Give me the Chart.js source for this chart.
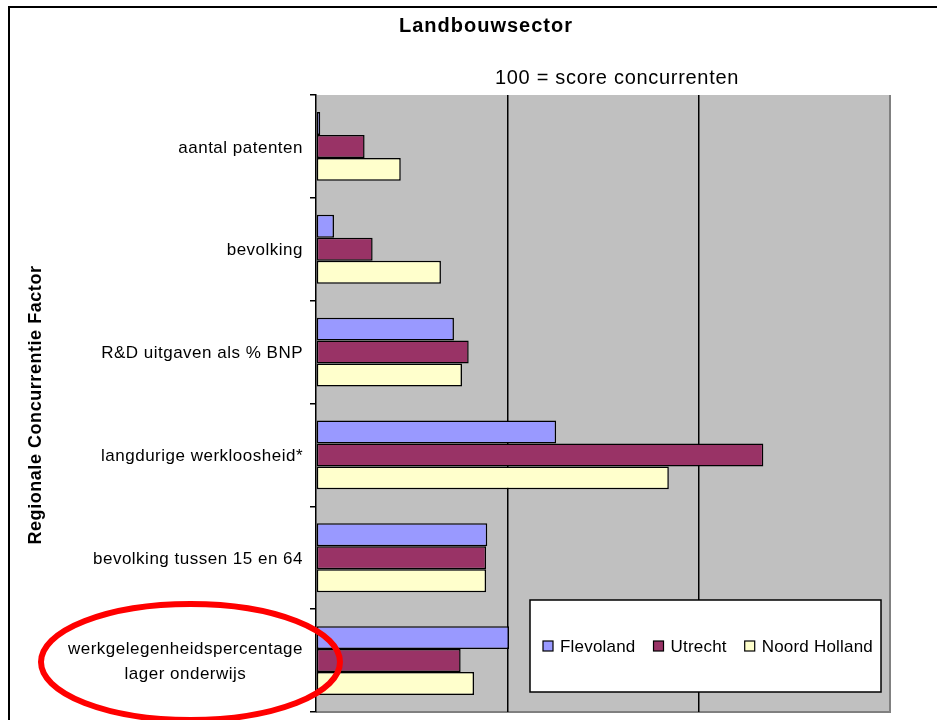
<!DOCTYPE html>
<html>
<head>
<meta charset="utf-8">
<script src="https://cdn.jsdelivr.net/npm/chart.js@4"></script>
<style>
  body { margin: 0; background: #fff; }
  canvas { display: block; }
</style>
</head>
<body>
<canvas id="chart" width="937" height="720"></canvas>
<script>
// data
var factoren = [
  'aantal patenten',
  'bevolking',
  'R&D uitgaven als % BNP',
  'langdurige werkloosheid*',
  'bevolking tussen 15 en 64',
  ['werkgelegenheidspercentage', 'lager onderwijs']
];
var flevoland = [2.2, 9.4, 72.1, 125.5, 89.5, 100.9];
var utrecht = [25.4, 29.6, 79.8, 233.8, 88.9, 75.6];
var noordHolland = [44.3, 65.3, 76.3, 184.4, 88.9, 82.6];
var xTicks = [0, 100, 200, 300];

var FONT = '"Liberation Sans", Arial, sans-serif';

// achtergrond plotgebied + kader
var achtergrond = {
  id: 'achtergrond',
  beforeDraw: function (chart) {
    var ctx = chart.ctx, a = chart.chartArea;
    ctx.save();
    ctx.fillStyle = '#fff';
    ctx.fillRect(0, 0, chart.width, chart.height);
    // buitenkader
    ctx.strokeStyle = '#000';
    ctx.lineWidth = 2;
    ctx.beginPath();
    ctx.moveTo(9, chart.height + 5);
    ctx.lineTo(9, 7);
    ctx.lineTo(chart.width + 5, 7);
    ctx.stroke();
    ctx.fillStyle = '#c0c0c0';
    ctx.fillRect(a.left, a.top, a.right - a.left, a.bottom - a.top);
    ctx.strokeStyle = '#808080';
    ctx.lineWidth = 2;
    ctx.beginPath();
    ctx.moveTo(a.right, a.top);
    ctx.lineTo(a.right, a.bottom);
    ctx.lineTo(a.left, a.bottom);
    ctx.stroke();
    ctx.restore();
  }
};

// titels, aslabels, legenda en ellips
var teksten = {
  id: 'teksten',
  afterDraw: function (chart) {
    var ctx = chart.ctx, y = chart.scales.y;
    ctx.save();
    ctx.fillStyle = '#000';
    ctx.textBaseline = 'middle';

    ctx.textAlign = 'center';
    ctx.letterSpacing = '1px';
    ctx.font = 'bold 20px ' + FONT;
    ctx.fillText('Landbouwsector', 486, 26);
    ctx.letterSpacing = '0.7px';
    ctx.font = '20px ' + FONT;
    ctx.fillText('100 = score concurrenten', 617, 78);

    // y-as titel
    ctx.save();
    ctx.translate(36, 405);
    ctx.rotate(-Math.PI / 2);
    ctx.letterSpacing = '0.55px';
    ctx.font = 'bold 18px ' + FONT;
    ctx.fillText('Regionale Concurrentie Factor', 0, 0);
    ctx.restore();

    // categorielabels
    ctx.letterSpacing = '0.5px';
    ctx.font = '17px ' + FONT;
    factoren.forEach(function (lab, i) {
      var lines = Array.isArray(lab) ? lab : [lab];
      var w = Math.max.apply(null, lines.map(function (l) { return ctx.measureText(l).width; }));
      var cx = 303 - w / 2;
      var yc = y.getPixelForValue(i) + 1.5;
      var lh = 25;
      lines.forEach(function (l, j) {
        ctx.fillText(l, cx, yc + (j - (lines.length - 1) / 2) * lh);
      });
    });

    // legenda
    var lx = 530, ly = 600, lw = 351, lhg = 92;
    ctx.fillStyle = '#fff';
    ctx.fillRect(lx, ly, lw, lhg);
    ctx.strokeStyle = '#000';
    ctx.lineWidth = 1.5;
    ctx.strokeRect(lx, ly, lw, lhg);
    ctx.letterSpacing = '0.2px';
    ctx.font = '17px ' + FONT;
    ctx.textAlign = 'left';
    var px = 543, py = ly + lhg / 2;
    chart.data.datasets.forEach(function (ds) {
      ctx.fillStyle = ds.backgroundColor;
      ctx.fillRect(px, py - 5, 10, 10);
      ctx.strokeStyle = '#000';
      ctx.lineWidth = 1.2;
      ctx.strokeRect(px, py - 5, 10, 10);
      ctx.fillStyle = '#000';
      ctx.fillText(ds.label, px + 17, py + 1);
      px += 17 + ctx.measureText(ds.label).width + 18;
    });

    // rode ellips
    ctx.strokeStyle = '#ff0000';
    ctx.lineWidth = 6;
    ctx.beginPath();
    ctx.ellipse(190.5, 662, 149.5, 58, 0, 0, Math.PI * 2);
    ctx.stroke();
    ctx.restore();
  }
};

new Chart(document.getElementById('chart'), {
  type: 'bar',
  data: {
    labels: factoren,
    datasets: [{
      label: 'Flevoland',
      data: flevoland,
      backgroundColor: '#9999ff'
    }, {
      label: 'Utrecht',
      data: utrecht,
      backgroundColor: '#993366'
    }, {
      label: 'Noord Holland',
      data: noordHolland,
      backgroundColor: '#ffffcc'
    }]
  },
  options: {
    indexAxis: 'y',
    responsive: false,
    animation: false,
    layout: { padding: { top: 95, right: 47, left: 0, bottom: 0 } },
    datasets: {
      bar: {
        borderColor: '#000',
        borderWidth: 1.5,
        borderSkipped: false,
        categoryPercentage: 0.67,
        barPercentage: 1
      }
    },
    plugins: {
      legend: { display: false },
      title: { display: false },
      tooltip: { enabled: false }
    },
    scales: {
      x: {
        min: 0,
        max: 300,
        afterBuildTicks: function (s) {
          s.ticks = xTicks.map(function (v) { return { value: v }; });
        },
        afterFit: function (s) { s.height = 8; },
        ticks: { display: false },
        border: { display: false },
        grid: {
          drawTicks: false,
          lineWidth: 1.5,
          color: function (c) {
            return (c.tick && (c.tick.value === 0 || c.tick.value === 300)) ? 'rgba(0,0,0,0)' : '#000';
          }
        }
      },
      y: {
        afterFit: function (s) { s.width = 316; },
        ticks: { display: false },
        border: { display: true, color: '#000', width: 1.5 },
        grid: {
          drawOnChartArea: false,
          drawTicks: true,
          tickLength: 6,
          color: '#000',
          lineWidth: 1.5
        }
      }
    }
  },
  plugins: [achtergrond, teksten]
});
</script>
</body>
</html>
